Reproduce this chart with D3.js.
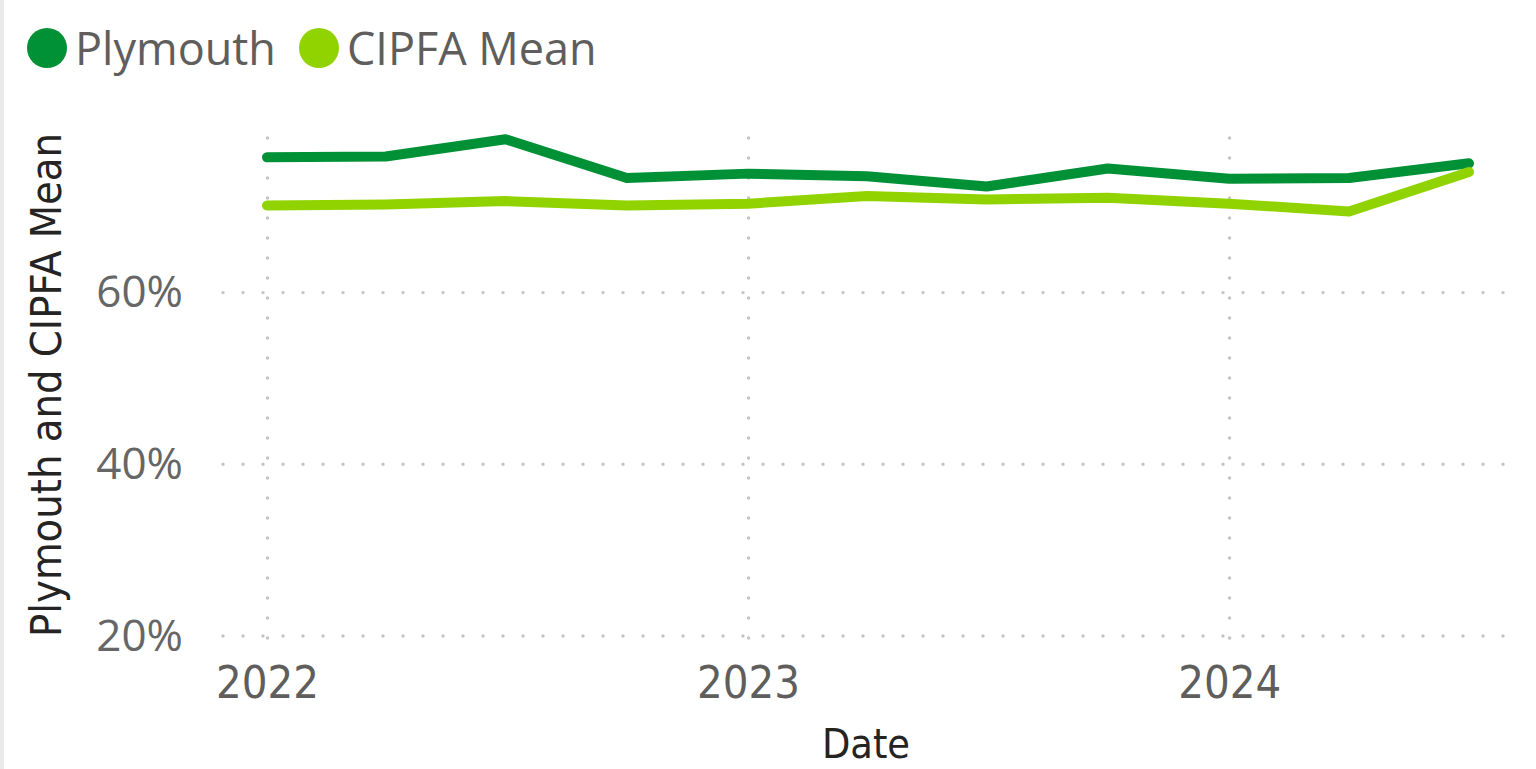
<!DOCTYPE html>
<html>
<head>
	<meta charset="UTF-8" />
	<title>Plymouth and CIPFA Mean</title>
	<script src="https://cdn.jsdelivr.net/npm/d3@7"></script>
	<style>
		body { margin: 0; background: #fff; }
		svg { display: block; }
	</style>
</head>
<body>
	<div id="chart"></div>
	<script type="text/javascript">
		// quarterly dates
		var dates = ["2022-01-01", "2022-04-01", "2022-07-01", "2022-10-01",
			"2023-01-01", "2023-04-01", "2023-07-01", "2023-10-01",
			"2024-01-01", "2024-04-01", "2024-07-01"];
		var plymouth = [0.757, 0.758, 0.778, 0.733, 0.738, 0.735, 0.723, 0.744, 0.732, 0.733, 0.750];
		var cipfaMean = [0.701, 0.702, 0.706, 0.701, 0.703, 0.712, 0.708, 0.710, 0.703, 0.694, 0.740];
		var yTicks = [0.2, 0.4, 0.6];
		var seriesNames = ["Plymouth", "CIPFA Mean"];
		var seriesColors = ["#009136", "#91d300"];

		var W = 1536, H = 769;
		var parse = d3.timeParse("%Y-%m-%d");

		var svg = d3.select("#chart").append("svg")
			.attr("width", W)
			.attr("height", H);

		// thin grey strip on the left edge
		svg.append("rect").attr("x", 0).attr("y", 0).attr("width", 4).attr("height", H).attr("fill", "#eaeaea");

		var plotL = 223, plotR = 1503;
		var x = d3.scaleTime()
			.domain([parse("2022-01-01"), parse("2024-07-01")])
			.range([267, 1469]);
		var y = d3.scaleLinear()
			.domain([0.2, 0.8])
			.range([635.5, 120.4]);

		// y axis + horizontal grid (dotted)
		var yAxis = svg.append("g")
			.attr("transform", "translate(" + plotL + ",0)")
			.call(d3.axisLeft(y).tickValues(yTicks).tickFormat(d3.format(".0%"))
				.tickSize(-(plotR - plotL + 1)).tickPadding(40));
		yAxis.select(".domain").remove();
		yAxis.selectAll("line")
			.attr("stroke", "#c4c4c4").attr("stroke-width", 3.4)
			.attr("stroke-linecap", "round").attr("stroke-dasharray", "0,20");
		yAxis.selectAll("text")
			.attr("dy", null).attr("y", 14.5)
			.attr("fill", "#666").attr("font-size", 44)
			.attr("font-family", "'Segoe UI', 'Open Sans', sans-serif");

		// x axis + vertical grid
		var xAxis = svg.append("g")
			.attr("transform", "translate(0,638)")
			.call(d3.axisBottom(x).ticks(d3.timeYear.every(1)).tickFormat(d3.timeFormat("%Y"))
				.tickSize(-501));
		xAxis.select(".domain").remove();
		xAxis.selectAll("line")
			.attr("stroke", "#c4c4c4").attr("stroke-width", 3.4)
			.attr("stroke-linecap", "round").attr("stroke-dasharray", "0,20");
		xAxis.selectAll("text")
			.attr("dy", null).attr("y", 60)
			.attr("fill", "#605e5c").attr("font-size", 45)
			.attr("font-family", "'DejaVu Sans Condensed', 'DejaVu Sans', sans-serif")
			.attr("font-stretch", "condensed");

		// lines
		var line = d3.line()
			.x(function(d) { return x(d.date); })
			.y(function(d) { return y(d.v); });
		[plymouth, cipfaMean].forEach(function(vals, i) {
			var pts = dates.map(function(dd, j) { return { date: parse(dd), v: vals[j] }; });
			svg.append("path")
				.datum(pts)
				.attr("fill", "none")
				.attr("stroke", seriesColors[i])
				.attr("stroke-width", 10)
				.attr("stroke-linecap", "round")
				.attr("stroke-linejoin", "round")
				.attr("d", line);
		});

		// legend
		var legX = [47, 319];
		seriesNames.forEach(function(n, i) {
			svg.append("circle").attr("cx", legX[i]).attr("cy", 48).attr("r", 20).attr("fill", seriesColors[i]);
			svg.append("text").attr("x", legX[i] + 28).attr("y", 65)
				.attr("fill", "#605e5c").attr("font-size", 45)
				.attr("font-family", "'Segoe UI', 'Open Sans', sans-serif")
				.text(n);
		});

		// axis titles
		svg.append("text")
			.attr("transform", "translate(61,385) rotate(-90)")
			.attr("text-anchor", "middle")
			.attr("fill", "#252423").attr("font-size", 43)
			.attr("font-family", "'DejaVu Sans Condensed', 'DejaVu Sans', sans-serif")
			.attr("font-stretch", "condensed")
			.text("Plymouth and CIPFA Mean");
		svg.append("text")
			.attr("x", 866).attr("y", 758)
			.attr("text-anchor", "middle")
			.attr("fill", "#252423").attr("font-size", 41)
			.attr("font-family", "'DejaVu Sans Condensed', 'DejaVu Sans', sans-serif")
			.attr("font-stretch", "condensed")
			.text("Date");
	</script>
</body>
</html>
